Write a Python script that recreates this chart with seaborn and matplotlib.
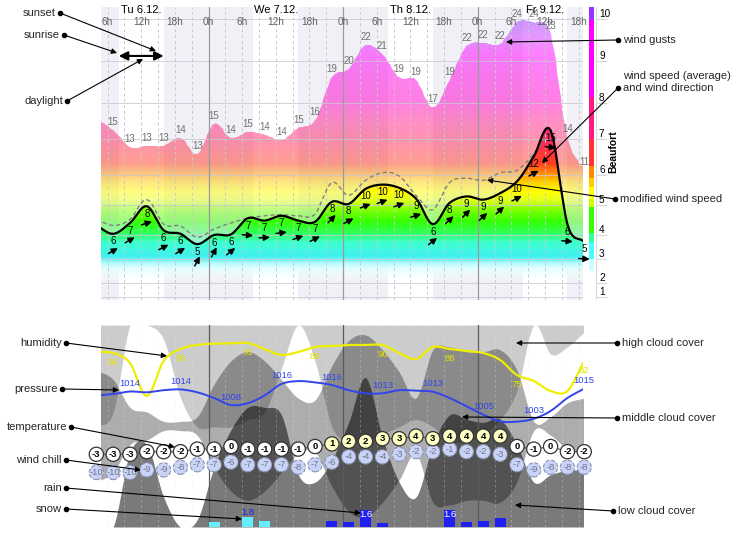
"""
Meteogram: wind, clouds, temperature and precipitation, Tu 6.12. - Fr 9.12.
"""
import numpy as np
import matplotlib
matplotlib.use("Agg")
import matplotlib.pyplot as plt
import matplotlib.transforms as mtransforms
from matplotlib.colors import (LinearSegmentedColormap, ListedColormap, Normalize,
                               BoundaryNorm)
from matplotlib.patches import Polygon
import seaborn as sns

sns.set_theme(style="white")
plt.rcParams["font.family"] = ["Liberation Sans", "DejaVu Sans"]

# ── data: 3-hourly, hours counted from Tuesday 0h ─────────────────────────
hours = np.arange(4, 92, 3)

wind_ms = [6.3, 5.6, 6.5, 7.9, 5.9, 5.6, 4.7, 5.5, 5.55, 6.9, 6.7, 7.1, 6.7, 6.6,
           8.3, 8.1, 9.5, 9.9, 9.6, 8.6, 6.4, 8.2, 8.8, 8.5, 9.1, 10.2, 12.4,
           14.7, 6.4, 4.9]
gust_ms = [15.8, 14.7, 13.2, 13.3, 13.3, 14.0, 12.6, 15.3, 14.0, 14.55, 14.3,
           13.8, 14.9, 15.6, 19.4, 20.1, 22.2, 21.4, 19.4, 19.2, 16.8, 19.2,
           22.1, 22.4, 22.3, 24.2, 24.2, 23.2, 14.1, 11.2]
modified_ms = [6.8, 6.3, 6.8, 8.5, 6.4, 6.25, 5.3, 6.0, 6.5, 6.9, 7.1, 7.2, 7.1,
               7.25, 10.1, 8.9, 10.3, 11.0, 10.7, 8.9, 7.6, 10.1, 10.5, 10.3,
               11.0, 11.2, 12.65, 14.7, np.nan, np.nan]
wind_from_deg = [240, 240, 240, 253, 243, 239, 208, 208, 231, 275, 267, 263, 250,
                 243, 224, 242, 248, 250, 250, 253, 231, 227, 225, 227, 227, 243,
                 242, 275, 275, 273]

temperature = [-3, -3, -3, -2, -2, -2, -1, -1, 0, -1, -1, -1, -1, 0, 1, 2, 2, 3, 3,
               4, 3, 4, 4, 4, 4, 0, -1, 0, -2, -2]
wind_chill = [-10, -10, -10, -9, -9, -8, -7, -7, -6, -7, -7, -7, -8, -7, -6, -4,
              -4, -4, -3, -2, -2, -1, -2, -2, -3, -7, -9, -8, -8, -8]
humidity = [86.5, 86, 81, 64.5, 82, 88, 90, 90.7, 90.8, 91, 88, 85, 86.5, 89,
            89.5, 90, 90, 90, 86, 83, 89, 88, 87, 86, 82.5, 75, 72, 67, 67, 82]
pressure = [1012.0, 1012.5, 1013.5, 1013.2, 1014.0, 1014.3, 1013.2, 1011.0,
            1008.3, 1009.0, 1012.0, 1016.4, 1017.5, 1017.0, 1016.0, 1014.0,
            1012.8, 1012.8, 1014.0, 1013.8, 1013.4, 1011.0, 1007.8, 1004.6,
            1002.0, 1001.9, 1003.0, 1006.0, 1011.0, 1014.6]
rain_mm = [0, 0, 0, 0, 0, 0, 0, 0, 0, 0, 0, 0, 0, 0, 0.55, 0.5, 1.6, 0.4, 0, 0,
           0, 1.6, 0.5, 0.55, 0.85, 0, 0, 0, 0, 0]
snow_cm = [0, 0, 0, 0, 0, 0, 0, 0.9, 0, 1.8, 1.0, 0, 0, 0, 0, 0, 0, 0, 0, 0, 0,
           0, 0, 0, 0, 0, 0, 0, 0, 0]

cloud_high = [0.7, 0.6, 0.0, 0.0, 0.1, 0.5, 0.7, 0.7, 0.7, 0.65, 0.6, 0.3, 0.0,
              0.25, 0.7, 0.8, 0.8, 0.75, 0.7, 0.65, 0.7, 0.8, 0.8, 0.75, 0.65,
              0.45, 0.0, 0.2, 0.15, 0.05]
cloud_mid = [0.6, 0.5, 0.2, 0.15, 0.05, 0.05, 0.1, 0.45, 0.7, 0.8, 0.7, 0.5, 0.3,
             0.28, 0.65, 0.92, 0.98, 0.82, 0.58, 0.3, 0.82, 0.85, 0.8, 0.8, 0.82,
             0.6, 0.05, 0.1, 0.25, 0.3]
cloud_low = [0.0, 0.0, 0.5, 0.55, 0.2, 0.0, 0.05, 0.4, 0.65, 0.8, 0.8, 0.75,
             0.35, 0.3, 0.45, 0.7, 1.0, 0.6, 0.3, 0.2, 0.55, 0.75, 0.72, 0.7,
             0.72, 0.55, 0.3, 0.35, 0.38, 0.38]

day_names = ["Tu 6.12.", "We 7.12.", "Th 8.12.", "Fr 9.12."]
sunrise_h, sunset_h = 8, 16

# Beaufort scale: band boundaries (m/s) and their drawn height
BFT_SPEED = [0, 0.3, 1.6, 3.4, 5.5, 8.0, 10.8, 13.9, 17.2, 20.8, 24.5, 30.0]
BFT_POS = [0, 3, 17, 41, 65, 95, 125, 161, 197, 239, 281, 343.4]
CMAP_SPEED = [0, 1.8, 2.8, 3.6, 4.8, 5.6, 6.6, 7.6, 8.4, 9.2, 10.2, 10.9, 11.8,
              13.5, 15.5, 17.5, 21.5, 23.0, 24.5, 26]
CMAP_COLOR = ["#ffffff", "#ffffff", "#d8ffff", "#40f0f0", "#40ffd0", "#30ff60",
              "#33ff00", "#80ff00", "#e0ff20", "#ffff00", "#ffcc00", "#ff9000",
              "#ff4020", "#ff2a55", "#ff2090", "#ff00cc", "#ff00ff", "#cc33ff",
              "#9933ff", "#9933ff"]
BAR_EDGES = [0, 2.5, 3.4, 4.9, 5.7, 7.8, 8.6, 9.7, 10.5, 11.6, 13.9, 17.7, 24.4, 26]
BAR_COLOR = ["#ffffff", "#ccffff", "#44ffff", "#33ff99", "#33ff00", "#ccff00",
             "#ffff00", "#ffcc00", "#ff8800", "#ff3333", "#ff1a80", "#ff00ff",
             "#9933ff"]

# ── layout helpers ─────────────────────────────────────────────────────────
W, H = 739, 537
T_MIN, T_MAX = 4.83, 90.78


def box(x0, y0, x1, y1):
    return [x0 / W, 1 - y1 / H, (x1 - x0) / W, (y1 - y0) / H]


def spd_to_pos(v):
    return np.interp(v, BFT_SPEED, BFT_POS)


def pos_to_spd(p):
    return np.interp(p, BFT_POS, BFT_SPEED)


def smooth(x, y, n=10):
    # cubic Hermite (Catmull-Rom) curve through the points, for drawing only
    x = np.asarray(x, float)
    y = np.asarray(y, float)
    m = np.gradient(y, x)
    s = np.linspace(0, 1, n, endpoint=False)[:, None]
    h = np.diff(x)
    ys = ((2 * s**3 - 3 * s**2 + 1) * y[:-1] + (s**3 - 2 * s**2 + s) * h * m[:-1]
          + (-2 * s**3 + 3 * s**2) * y[1:] + (s**3 - s**2) * h * m[1:])
    xs = x[:-1] + s * h
    return np.append(xs.T.ravel(), x[-1]), np.append(ys.T.ravel(), y[-1])


def rnd(v):
    return int(np.floor(v + 0.5))


SPD_TOP = pos_to_spd(293)
base = LinearSegmentedColormap.from_list(
    "bft", list(zip(np.array(CMAP_SPEED) / 26.0, CMAP_COLOR)))
lut = base(np.linspace(0, 1, 512))
lut_speed = np.linspace(0, 26, 512)
lut[:, 3] = np.clip((lut_speed - 1.6) / 1.4, 0, 1)
cmap_full = ListedColormap(lut)
lut_soft = lut.copy()
lut_soft[:, 3] *= 0.5
cmap_soft = ListedColormap(lut_soft)
norm = Normalize(0, 26)

night = [(T_MIN, sunrise_h)] + [(sunset_h + 24 * d, sunrise_h + 24 * (d + 1))
                                for d in range(3)] + [(sunset_h + 72, T_MAX)]

fig = plt.figure(figsize=(W / 100, H / 100), dpi=100)

# ── top panel: wind ────────────────────────────────────────────────────────
ax = fig.add_axes(box(101, 7, 583, 300))
ax.set_yscale("function", functions=(spd_to_pos, pos_to_spd))
ax.set_xlim(T_MIN, T_MAX)
ax.set_ylim(0, SPD_TOP)
ax.set_axis_off()

for a, b in night:
    ax.axvspan(a, b, color="#f0f0f6", lw=0, zorder=0)

ts, gust_s = smooth(hours, gust_ms)
_, wind_s = smooth(hours, wind_ms)
yy = np.linspace(0, SPD_TOP, 400)
cc = ((yy[:-1] + yy[1:]) / 2)[:, None]
for curve, cm, z in [(gust_s, cmap_soft, 1), (wind_s, cmap_full, 2)]:
    mesh = ax.pcolormesh([T_MIN, T_MAX], yy, cc, cmap=cm, norm=norm,
                         shading="flat", zorder=z)
    verts = np.column_stack([np.r_[ts, ts[::-1]],
                             np.r_[curve, np.zeros_like(curve)]])
    mesh.set_clip_path(Polygon(verts, closed=True, transform=ax.transData))

ax.hlines(BFT_SPEED[1:-1], T_MIN, T_MAX, colors="#c8c8d4", lw=0.7, alpha=0.8,
          zorder=3)
for t in range(6, 91, 3):
    if t % 24:
        ax.axvline(t, color="#c8c8c8", lw=0.7, ls=(0, (3, 3)), zorder=3)
    else:
        ax.axvline(t, color="#9a9a9a", lw=0.9, zorder=3)

mod = np.array(modified_ms)
ok = ~np.isnan(mod)
tm, mod_s = smooth(hours[ok], mod[ok])
sns.lineplot(x=tm, y=mod_s, ax=ax, color="#808080", linewidth=1.0,
             linestyle=(0, (3, 2)), zorder=4)
sns.lineplot(x=ts, y=wind_s, ax=ax, color="black", linewidth=1.6, zorder=5)

for t, w, g, frm in zip(hours[1:], wind_ms[1:], gust_ms[1:], wind_from_deg[1:]):
    ax.annotate(str(rnd(w)), xy=(t, w), xytext=(0, -7.5), textcoords="offset pixels",
                ha="center", va="center", fontsize=7, color="black",
                annotation_clip=False, zorder=6)
    ax.annotate(str(rnd(g)), xy=(t, g), xytext=(0, 8), textcoords="offset pixels",
                ha="center", va="center", fontsize=7, color="#707070",
                annotation_clip=False, zorder=6)
    ang = np.deg2rad(270 - frm)
    dx, dy = 5.5 * np.cos(ang), 5.5 * np.sin(ang)
    head = mtransforms.offset_copy(ax.transData, fig=fig, x=dx, y=-17 + dy,
                                   units="dots")
    ax.annotate("", xy=(t, w), xycoords=head, xytext=(-2 * dx, -2 * dy),
                textcoords="offset pixels", annotation_clip=False, zorder=6,
                arrowprops=dict(arrowstyle="-|>", color="black", lw=1.1,
                                mutation_scale=9, shrinkA=0, shrinkB=0))

top = mtransforms.blended_transform_factory(ax.transData, ax.transAxes)
for t in range(6, 91, 6):
    ax.text(t, 0.949, f"{t % 24}h", transform=top, ha="center", va="center",
            fontsize=7.2, color="#606060", zorder=7)
for d, name in enumerate(day_names):
    ax.text(12 + 24 * d, 0.99, name, transform=top, ha="center", va="center",
            fontsize=8, color="black", zorder=7)
ax.annotate("", xy=(sunset_h, 0.833), xytext=(sunrise_h, 0.833), xycoords=top,
            arrowprops=dict(arrowstyle="<|-|>", color="black", lw=1.5,
                            mutation_scale=13, shrinkA=0, shrinkB=0), zorder=7)

# ── Beaufort colour bar ────────────────────────────────────────────────────
cax = fig.add_axes(box(589, 7, 622, 300))
cax.set_yscale("function", functions=(spd_to_pos, pos_to_spd))
cax.set_xlim(0, 33)
cax.set_ylim(0, SPD_TOP)
cax.set_axis_off()
cax.pcolormesh([0, 4.5], yy, cc, cmap=ListedColormap(BAR_COLOR),
               norm=BoundaryNorm(BAR_EDGES, len(BAR_COLOR)), shading="flat")
cax.axvline(7, color="#d8d8d8", lw=0.8)
cax.hlines(BFT_SPEED[1:-1], 7, 18, colors="#d8d8d8", lw=0.8)
for b, v in enumerate(BFT_SPEED[1:-1], start=1):
    cax.text(10, v, str(b), ha="left", va="bottom", fontsize=7.2, color="black")
cax.text(24, 0.505, "Beaufort", transform=mtransforms.blended_transform_factory(
    cax.transData, cax.transAxes), rotation=90, ha="center", va="center",
    fontsize=7.5, fontweight="bold", color="black")

# ── lower panel: clouds, humidity, pressure, temperature, precipitation ───
axl = fig.add_axes(box(101, 325, 583, 527))
axl.set_xlim(T_MIN, T_MAX)
axl.set_ylim(0, 1)
axl.set_axis_off()

tc, hi_s = smooth(hours, cloud_high)
_, mi_s = smooth(hours, cloud_mid)
_, lo_s = smooth(hours, cloud_low)
hi_s, mi_s, lo_s = [np.clip(c, 0, 1.05) for c in (hi_s, mi_s, lo_s)]
axl.fill_between(tc, 1 - hi_s * 0.72, 1, color="black", alpha=0.2, lw=0)
axl.fill_between(tc, 0.5 - mi_s * 0.46, 0.5 + mi_s * 0.46, color="black",
                 alpha=0.32, lw=0)
axl.fill_between(tc, 0, lo_s * 0.74, color="black", alpha=0.52, lw=0)
for t in range(6, 91, 3):
    if t % 24:
        axl.axvline(t, color="#e8e8e8", lw=0.6, ls=(0, (3, 3)), alpha=0.35)
    else:
        axl.axvline(t, color="#5a5a5a", lw=0.9)

axr = axl.twinx()
axr.set_ylim(0, 19.06)
axr.set_axis_off()
axr.bar(hours, rain_mm, width=2.0, color="#2020f0", lw=0)
for t, r in zip(hours, rain_mm):
    if r >= 1.5:
        axr.annotate(f"{r:.1f}", xy=(t, r), xytext=(0, -4), textcoords="offset pixels",
                     ha="center", va="center", fontsize=6.8, color="white")

axs = axl.twinx()
axs.set_ylim(0, 35.4)
axs.set_axis_off()
axs.bar(hours, snow_cm, width=2.0, color="#66eeff", lw=0)
for t, s in zip(hours, snow_cm):
    if s >= 1.5:
        axs.annotate(f"{s:.1f}", xy=(t, s), xytext=(0, 4), textcoords="offset pixels",
                     ha="center", va="center", fontsize=6.8, color="#2020f0")

axh = axl.twinx()
axh.set_ylim(-1, 100)
axh.set_axis_off()
th, hum_s = smooth(hours, humidity)
sns.lineplot(x=th, y=hum_s, ax=axh, color="#eeee00", linewidth=1.6)
for t, v in list(zip(hours, humidity))[1::4]:
    axh.annotate(str(rnd(v)), xy=(t, v), xytext=(0, -9), textcoords="offset pixels",
                 ha="center", va="center", fontsize=6.8, color="#e2e200",
                 annotation_clip=False)

axp = axl.twinx()
axp.set_ylim(961.38, 1039.08)
axp.set_axis_off()
tp, pres_s = smooth(hours, pressure)
sns.lineplot(x=tp, y=pres_s, ax=axp, color="#3344ee", linewidth=1.4)
for t, v in list(zip(hours, pressure))[2::3]:
    axp.annotate(str(rnd(v)), xy=(t, v), xytext=(0, 8), textcoords="offset pixels",
                 ha="center", va="center", fontsize=6.8, color="#3344ee",
                 annotation_clip=False)

axt = axl.twinx()
axt.set_ylim(-30.96, 46.73)
axt.set_axis_off()
axt.plot(hours, temperature, color="#555555", lw=0.8)
warm = ["warm" if v > 0 else "cold" for v in temperature]
sns.scatterplot(x=hours, y=wind_chill, ax=axt, s=105, color="#c9d3f7",
                edgecolor="#8a94b0", linewidth=0.8, linestyle="--", clip_on=False,
                zorder=3)
sns.scatterplot(x=hours, y=temperature, hue=warm, ax=axt, s=105,
                palette={"warm": "#ffffc4", "cold": "#ffffff"}, edgecolor="#333333",
                linewidth=0.9, clip_on=False, legend=False, zorder=4)
for t, v, c in zip(hours, temperature, wind_chill):
    axt.text(t, v, str(v), ha="center", va="center", fontsize=6.8,
             fontweight="bold", color="black", zorder=5)
    axt.text(t, c, str(c), ha="center", va="center", fontsize=6.8,
             color="#707688", zorder=5)

# ── explanatory labels around the chart ────────────────────────────────────
ov = fig.add_axes([0, 0, 1, 1], facecolor="none")
ov.set_xlim(0, W)
ov.set_ylim(H, 0)
ov.set_axis_off()
ov.set_zorder(10)

left_notes = [("sunset", (60, 13), (156, 51)), ("sunrise", (64, 35), (117, 53)),
              ("daylight", (67, 101), (143, 59)), ("humidity", (66, 343), (167, 356)),
              ("pressure", (62, 389), (119, 390)),
              ("temperature", (71, 427), (175, 447)),
              ("wind chill", (66, 460), (141, 470)), ("rain", (66, 488), (361, 513)),
              ("snow", (66, 509), (242, 519))]
right_notes = [("wind gusts", (618, 40), (506, 42)),
               ("and wind direction", (618, 88), (542, 163)),
               ("modified wind speed", (615, 199), (487, 180)),
               ("high cloud cover", (617, 343), (516, 343)),
               ("middle cloud cover", (617, 418), (462, 417)),
               ("low cloud cover", (613, 511), (515, 505))]

arrow_kw = dict(arrowstyle="-|>", color="black", lw=0.8, mutation_scale=8,
                shrinkA=0, shrinkB=0)
for label, dot, head in left_notes + right_notes:
    ov.annotate("", xy=head, xytext=dot, arrowprops=arrow_kw)
    ov.plot(*dot, "o", color="black", ms=3)
for label, dot, _ in left_notes:
    ov.text(dot[0] - 4, dot[1], label, ha="right", va="center", fontsize=8)
for label, dot, _ in right_notes:
    ov.text(dot[0] + 5, dot[1], label, ha="left", va="center", fontsize=8)
ov.text(623, 76, "wind speed (average)", ha="left", va="center", fontsize=8)

fig.savefig("out.png", dpi=100)
